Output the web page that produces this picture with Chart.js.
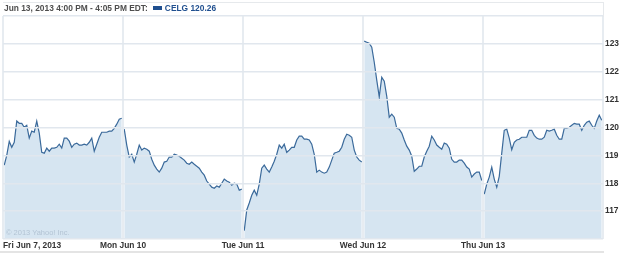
<!DOCTYPE html>
<html>
<head>
<meta charset="utf-8">
<script src="https://cdn.jsdelivr.net/npm/chart.js@4/dist/chart.umd.min.js"></script>
<style>
    body { margin: 0; background: #fff; }
    #wrap { position: relative; width: 625px; height: 254px; }
    #header { position: absolute; left: 4px; top: 3px; font: bold 8.4px "Liberation Sans", Arial, sans-serif; color: #4e4e4e; white-space: nowrap; }
    #header .sym { color: #1f4f8f; }
    #header .key { display: inline-block; width: 9px; height: 4px; background: #1f4f8f; margin: 0 3px 1px 5px; vertical-align: middle; }
    #copy { position: absolute; left: 6px; top: 228px; font: 7.5px "Liberation Sans", Arial, sans-serif; color: #b3c4d4; }
    #frame { position: absolute; left: 3px; top: 2px; width: 600px; height: 14px; border-top: 1px solid #e6e9ec; border-right: 1px solid #e6e9ec; }
    #base { position: absolute; left: 0; top: 251px; width: 604px; height: 2px; background: #e4e4e4; }
</style>
</head>
<body>
<div id="wrap">
    <canvas id="celgChart" width="625" height="254"></canvas>
    <div id="frame"></div>
    <div id="header">Jun 13, 2013 4:00 PM - 4:05 PM EDT:<span class="key"></span><span class="sym">CELG 120.26</span></div>
    <div id="copy">© 2013 Yahoo! Inc.</div>
    <div id="base"></div>
</div>
<script>
// CELG price, one sample every ~8 minutes of each trading session
const fri = [118.65, 119.0, 119.5, 119.29, 119.47, 120.23, 120.15, 120.15, 120.01, 120.08, 119.62, 119.87,
    119.83, 120.23, 119.8, 119.11, 119.08, 119.26, 119.15, 119.26, 119.26, 119.29, 119.4, 119.26,
    119.62, 119.62, 119.51, 119.29, 119.4, 119.44, 119.37, 119.37, 119.4, 119.37, 119.47, 119.62,
    119.15, 119.4, 119.65, 119.83, 119.83, 119.83, 119.87, 119.87, 119.97, 120.12, 120.3, 120.33];
const mon = [119.94, 119.37, 118.94, 119.04, 118.76, 119.04, 119.37, 119.19, 119.26, 119.22, 119.15, 118.86,
    118.65, 118.51, 118.4, 118.54, 118.76, 118.79, 118.94, 118.94, 119.04, 119.01, 118.97, 118.9,
    118.83, 118.72, 118.68, 118.76, 118.68, 118.61, 118.54, 118.4, 118.29, 118.08, 117.97, 117.86,
    117.82, 117.9, 117.86, 118.0, 118.15, 118.08, 118.04, 117.93, 118.0, 117.97, 117.75, 117.79];
const tue = [116.3, 117.04, 117.29, 117.57, 117.75, 117.57, 117.97, 118.54, 118.65, 118.51, 118.4, 118.58,
    118.79, 119.04, 119.37, 119.26, 119.4, 119.11, 119.19, 119.29, 119.29, 119.55, 119.69, 119.69,
    119.58, 119.58, 119.55, 119.4, 119.04, 118.4, 118.47, 118.4, 118.36, 118.4, 118.58, 118.83,
    119.08, 119.11, 119.15, 119.29, 119.58, 119.76, 119.72, 119.65, 119.19, 118.94, 118.83, 118.76];
const wed = [123.1, 123.06, 123.02, 122.88, 122.34, 121.7, 121.1, 121.8, 121.66, 121.12, 120.37, 120.48,
    120.37, 119.97, 119.94, 119.8, 119.55, 119.33, 119.19, 118.97, 118.43, 118.51, 118.61, 118.61,
    118.94, 119.15, 119.33, 119.69, 119.55, 119.37, 119.29, 119.22, 119.44, 119.4, 119.26, 118.86,
    118.76, 118.76, 118.83, 118.83, 118.72, 118.58, 118.51, 118.22, 118.33, 118.4, 118.4, 118.1];
const thu = [117.61, 117.97, 118.22, 118.58, 118.15, 117.86, 118.25, 119.08, 119.9, 119.94, 119.62, 119.2,
    119.47, 119.55, 119.58, 119.65, 119.65, 119.65, 119.9, 119.9, 119.72, 119.62, 119.58, 119.58,
    119.65, 119.9, 119.87, 119.9, 119.94, 119.72, 119.58, 119.58, 119.97, 119.97, 120.01, 120.08,
    120.15, 120.12, 120.12, 119.9, 120.08, 120.19, 120.23, 120.08, 119.97, 120.23, 120.44, 120.26];

const days = [fri, mon, tue, wed, thu];
const dayLabels = ['Fri Jun 7, 2013', 'Mon Jun 10', 'Tue Jun 11', 'Wed Jun 12', 'Thu Jun 13', ''];
const priceMin = 116;
const priceMax = 124;

const labelFont = { family: '"Liberation Sans", Arial, sans-serif', size: 8.4, weight: 'bold' };

document.addEventListener('DOMContentLoaded', function() {
    const ctx = document.getElementById('celgChart').getContext('2d');

    // each session sits inside its own day column on the x axis
    const datasets = days.map(function(prices) {
        return {
            data: prices.map((p, i) => ({ x: days.indexOf(prices) + (i + 0.5) / prices.length, y: p })),
            borderColor: '#3b6a9b',
            borderWidth: 1.2,
            backgroundColor: '#d6e5f1',
            fill: 'start',
            pointRadius: 0,
            tension: 0
        };
    });

    new Chart(ctx, {
        type: 'line',
        data: { datasets: datasets },
        options: {
            responsive: false,
            animation: false,
            devicePixelRatio: 1,
            layout: { padding: { left: 3, top: 16, right: 0, bottom: 0 } },
            plugins: { legend: { display: false }, tooltip: { enabled: false } },
            scales: {
                x: {
                    type: 'linear',
                    min: 0,
                    max: days.length,
                    border: { display: false },
                    grid: { color: '#e7ecf1', lineWidth: 2, drawTicks: false, z: 1 },
                    ticks: {
                        stepSize: 1,
                        autoSkip: false,
                        maxRotation: 0,
                        align: 'inner',
                        padding: 2,
                        color: '#333',
                        font: labelFont,
                        callback: v => dayLabels[v]
                    },
                    afterFit: scale => { scale.height = 15; }
                },
                y: {
                    position: 'right',
                    min: priceMin,
                    max: priceMax,
                    border: { display: false },
                    grid: { color: '#e1e7ee', lineWidth: 1.5, drawTicks: false, z: 1 },
                    ticks: {
                        stepSize: 1,
                        padding: 2,
                        color: '#333',
                        font: labelFont,
                        callback: v => (v === priceMin || v === priceMax) ? '' : v
                    },
                    afterFit: scale => { scale.width = 22; }
                }
            }
        }
    });
});
</script>
</body>
</html>
